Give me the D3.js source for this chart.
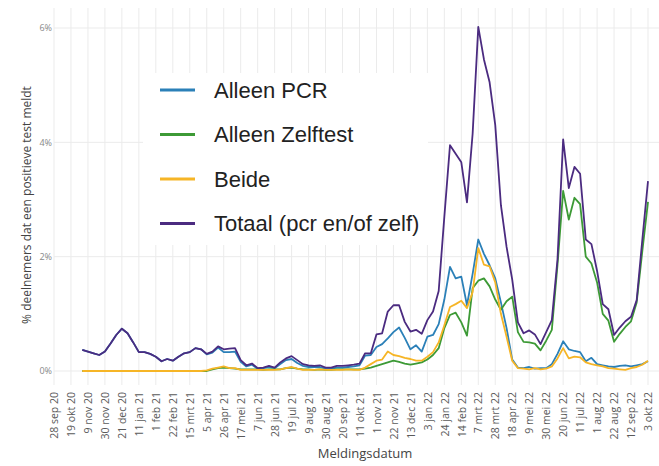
<!DOCTYPE html>
<html>
<head>
<meta charset="utf-8">
<script src="https://cdn.jsdelivr.net/npm/d3@7/dist/d3.min.js"></script>
<style>
  body { margin: 0; background: #fff; }
  svg { display: block; }
</style>
</head>
<body>
<div id="mainDiv"></div>
<script>
'use strict';

// labels on the date axis, one every 3 weeks starting 28 sep 2020
var tickLabels = ['28 sep 20', '19 okt 20', '9 nov 20', '30 nov 20', '21 dec 20', '11 jan 21',
    '1 feb 21', '22 feb 21', '15 mrt 21', '5 apr 21', '26 apr 21', '17 mei 21', '7 jun 21',
    '28 jun 21', '19 jul 21', '9 aug 21', '30 aug 21', '20 sep 21', '11 okt 21', '1 nov 21',
    '22 nov 21', '13 dec 21', '3 jan 22', '24 jan 22', '14 feb 22', '7 mrt 22', '28 mrt 22',
    '18 apr 22', '9 mei 22', '30 mei 22', '20 jun 22', '11 jul 22', '1 aug 22', '22 aug 22',
    '12 sep 22', '3 okt 22'];
var yTicks = [0, 2, 4, 6];

var seriesNames = ['Alleen PCR', 'Alleen Zelftest', 'Beide', 'Totaal (pcr en/of zelf)'];
var seriesColors = ['#2b80b8', '#3d9a36', '#f6b526', '#4b2b80'];

// weekly values (%), 2 nov 2020 .. 3 okt 2022
var alleenPcr = [
    0.37, 0.34, 0.31, 0.28, 0.34, 0.48, 0.63, 0.74, 0.66, 0.50,
    0.33, 0.33, 0.30, 0.25, 0.17, 0.21, 0.18, 0.25, 0.31, 0.33,
    0.40, 0.38, 0.29, 0.32, 0.41, 0.33, 0.33, 0.34, 0.16, 0.08,
    0.11, 0.04, 0.05, 0.07, 0.05, 0.12, 0.19, 0.21, 0.14, 0.09,
    0.07, 0.07, 0.07, 0.04, 0.04, 0.06, 0.06, 0.07, 0.08, 0.10,
    0.27, 0.28, 0.42, 0.47, 0.57, 0.68, 0.76, 0.58, 0.38, 0.45,
    0.34, 0.60, 0.63, 0.82, 1.25, 1.82, 1.62, 1.65, 1.15, 1.70,
    2.30, 2.05, 1.85, 1.62, 1.20, 0.75, 0.20, 0.06, 0.05, 0.07,
    0.04, 0.05, 0.05, 0.12, 0.30, 0.52, 0.38, 0.35, 0.33, 0.17,
    0.23, 0.12, 0.10, 0.08, 0.07, 0.09, 0.10, 0.08, 0.10, 0.12, 0.17];
var alleenZelftest = [
    0, 0, 0, 0, 0, 0, 0, 0, 0, 0,
    0, 0, 0, 0, 0, 0, 0, 0, 0, 0,
    0, 0, 0.00, 0.03, 0.05, 0.06, 0.05, 0.04, 0.03, 0.03,
    0.03, 0.03, 0.02, 0.03, 0.03, 0.03, 0.05, 0.06, 0.04, 0.03,
    0.03, 0.02, 0.03, 0.02, 0.02, 0.03, 0.03, 0.03, 0.03, 0.03,
    0.04, 0.06, 0.09, 0.12, 0.15, 0.18, 0.16, 0.13, 0.11, 0.13,
    0.15, 0.20, 0.28, 0.40, 0.75, 0.98, 1.02, 0.85, 0.62, 1.45,
    1.58, 1.62, 1.48, 1.25, 1.07, 1.22, 1.30, 0.68, 0.51, 0.50,
    0.48, 0.36, 0.53, 0.72, 1.85, 3.15, 2.65, 3.03, 2.92, 2.00,
    1.88, 1.55, 1.00, 0.88, 0.51, 0.65, 0.77, 0.87, 1.20, 2.10, 2.96];
var beide = [
    0, 0, 0, 0, 0, 0, 0, 0, 0, 0,
    0, 0, 0, 0, 0, 0, 0, 0, 0, 0,
    0, 0, 0.01, 0.04, 0.06, 0.08, 0.05, 0.05, 0.02, 0.02,
    0.02, 0.02, 0.02, 0.02, 0.02, 0.03, 0.05, 0.07, 0.04, 0.02,
    0.02, 0.02, 0.03, 0.02, 0.02, 0.02, 0.02, 0.03, 0.02, 0.02,
    0.06, 0.12, 0.18, 0.20, 0.34, 0.28, 0.26, 0.23, 0.21, 0.18,
    0.18, 0.25, 0.33, 0.50, 0.80, 1.12, 1.17, 1.23, 1.10, 1.38,
    2.15, 1.86, 1.83, 1.55, 1.00, 0.60, 0.18, 0.05, 0.04, 0.03,
    0.05, 0.03, 0.04, 0.08, 0.22, 0.40, 0.22, 0.25, 0.24, 0.15,
    0.12, 0.10, 0.08, 0.05, 0.04, 0.03, 0.02, 0.05, 0.07, 0.11, 0.18];
var totaal = [
    0.37, 0.34, 0.31, 0.28, 0.34, 0.48, 0.63, 0.74, 0.66, 0.50,
    0.33, 0.33, 0.30, 0.25, 0.17, 0.21, 0.18, 0.25, 0.31, 0.33,
    0.40, 0.38, 0.30, 0.34, 0.43, 0.38, 0.39, 0.40, 0.19, 0.10,
    0.13, 0.05, 0.06, 0.09, 0.06, 0.15, 0.22, 0.26, 0.19, 0.12,
    0.10, 0.09, 0.10, 0.06, 0.06, 0.09, 0.09, 0.10, 0.11, 0.13,
    0.31, 0.31, 0.64, 0.66, 1.04, 1.15, 1.15, 0.86, 0.69, 0.72,
    0.65, 0.89, 1.04, 1.40, 2.70, 3.95, 3.80, 3.65, 2.95, 4.15,
    6.02, 5.45, 5.05, 4.30, 2.90, 2.17, 1.60, 0.85, 0.66, 0.71,
    0.64, 0.47, 0.68, 0.89, 1.95, 4.05, 3.20, 3.57, 3.45, 2.30,
    2.22, 1.75, 1.17, 1.08, 0.63, 0.76, 0.87, 0.95, 1.24, 2.30, 3.32];

var chart = {};

chart.w = 659;
chart.h = 466;
chart.panel = {left: 54, right: 659, top: 8, bottom: 385};
chart.y0 = 371;   // 0%
chart.y6 = 28;    // 6%
chart.gridColor = '#ebebeb';
chart.textColor = '#5a5a5a';

chart.weeks = d3.timeMonday.range(new Date(2020, 10, 2), new Date(2022, 9, 4));
chart.tickDates = tickLabels.map(function(d, i) { return d3.timeDay.offset(new Date(2020, 8, 28), 21 * i); });

chart.xScale = d3.scaleTime()
    .domain([new Date(2020, 8, 28), new Date(2022, 9, 3)])
    .range([54, 648]);
chart.yScale = d3.scaleLinear().domain([0, 6]).range([chart.y0, chart.y6]);

chart.appendSvg = function(div)
{
    var svg = d3.select(div).append('svg')
        .attr('width', chart.w)
        .attr('height', chart.h);
    svg.append('rect').attr('width', chart.w).attr('height', chart.h).attr('fill', '#fff');
    return svg;
}

chart.addGrid = function(svg)
{
    var g = svg.append('g').attr('class', 'grid');

    g.selectAll('line.v')
        .data(chart.tickDates)
        .enter().append('line')
        .attr('class', 'v')
        .attr('x1', function(d) { return chart.xScale(d); })
        .attr('x2', function(d) { return chart.xScale(d); })
        .attr('y1', chart.panel.top)
        .attr('y2', chart.panel.bottom)
        .attr('stroke', chart.gridColor)
        .attr('stroke-width', 1);

    g.selectAll('line.h')
        .data(yTicks)
        .enter().append('line')
        .attr('class', 'h')
        .attr('x1', chart.panel.left)
        .attr('x2', chart.panel.right)
        .attr('y1', function(d) { return chart.yScale(d); })
        .attr('y2', function(d) { return chart.yScale(d); })
        .attr('stroke', chart.gridColor)
        .attr('stroke-width', 1);
}

chart.addAxis = function(svg)
{
    var labelOf = {};
    chart.tickDates.forEach(function(d, i) { labelOf[+d] = tickLabels[i]; });

    var xAxis = d3.axisBottom(chart.xScale)
        .tickValues(chart.tickDates)
        .tickFormat(function(d) { return labelOf[+d]; })
        .tickSize(0);

    var xg = svg.append('g')
        .attr('class', 'xAxis')
        .attr('transform', 'translate(0,' + 390 + ')')
        .call(xAxis);
    xg.select('.domain').remove();
    xg.selectAll('text')
        .attr('transform', 'rotate(-90)')
        .attr('x', -2)
        .attr('y', 0)
        .attr('dy', '0.35em')
        .attr('text-anchor', 'end')
        .attr('fill', chart.textColor)
        .style('font-family', '"Open Sans", sans-serif')
        .style('font-size', '10.5px');

    var yAxis = d3.axisLeft(chart.yScale)
        .tickValues(yTicks)
        .tickFormat(function(d) { return d + '%'; })
        .tickSize(0);

    var yg = svg.append('g')
        .attr('class', 'yAxis')
        .attr('transform', 'translate(' + 52 + ',0)')
        .call(yAxis);
    yg.select('.domain').remove();
    yg.selectAll('text')
        .attr('x', 0)
        .attr('fill', '#888')
        .style('font-family', '"Open Sans", sans-serif')
        .style('font-size', '9px');
}

chart.addAxisLabels = function(svg)
{
    svg.append('text')
        .attr('x', 365)
        .attr('y', 458)
        .attr('text-anchor', 'middle')
        .attr('fill', '#444')
        .style('font-family', '"Open Sans", sans-serif')
        .style('font-size', '13px')
        .text('Meldingsdatum');

    svg.append('text')
        .attr('transform', 'translate(31,205) rotate(-90)')
        .attr('text-anchor', 'middle')
        .attr('fill', '#444')
        .style('font-family', '"Open Sans", sans-serif')
        .style('font-size', '12px')
        .text('% deelnemers dat een positieve test meldt');
}

chart.addLines = function(svg)
{
    var series = [alleenPcr, alleenZelftest, beide, totaal];

    var line = d3.line()
        .x(function(d, i) { return chart.xScale(chart.weeks[i]); })
        .y(function(d) { return chart.yScale(d); });

    svg.append('g').attr('class', 'lines')
        .selectAll('path')
        .data(series)
        .enter().append('path')
        .attr('d', line)
        .attr('fill', 'none')
        .attr('stroke', function(d, i) { return seriesColors[i]; })
        .attr('stroke-width', 1.8)
        .attr('stroke-linejoin', 'round');
}

chart.addLegend = function(svg)
{
    var g = svg.append('g').attr('class', 'legend');

    g.append('rect')
        .attr('x', 143).attr('y', 73)
        .attr('width', 285).attr('height', 172)
        .attr('fill', '#fff');

    var rowY = function(i) { return 90 + i * 44.5; };

    g.selectAll('line')
        .data(seriesNames)
        .enter().append('line')
        .attr('x1', 160).attr('x2', 195)
        .attr('y1', function(d, i) { return rowY(i); })
        .attr('y2', function(d, i) { return rowY(i); })
        .attr('stroke', function(d, i) { return seriesColors[i]; })
        .attr('stroke-width', 3);

    g.selectAll('text')
        .data(seriesNames)
        .enter().append('text')
        .attr('x', 214)
        .attr('y', function(d, i) { return rowY(i); })
        .attr('dy', '0.36em')
        .attr('fill', '#222')
        .style('font-family', '"Liberation Sans", Arial, sans-serif')
        .style('font-size', '22px')
        .text(function(d) { return d; });
}

chart.run = function()
{
    var svg = chart.appendSvg('#mainDiv');
    chart.addGrid(svg);
    chart.addLegend(svg);
    chart.addAxis(svg);
    chart.addAxisLabels(svg);
    chart.addLines(svg);
}

window.onload = chart.run;
</script>
</body>
</html>
